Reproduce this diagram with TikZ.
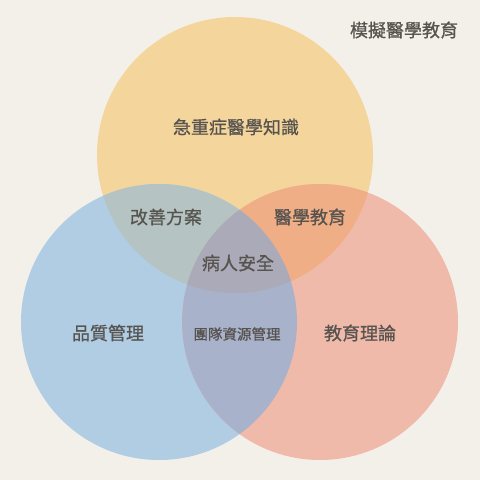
\documentclass[tikz,border=0pt]{standalone}
\usepackage{fontspec}
\setmainfont{Noto Sans CJK TC}
\newfontfamily\cjkm[FakeBold=0.8]{Noto Sans CJK TC}
\definecolor{bg}{HTML}{F3F0EA}
\definecolor{cy}{HTML}{F4D59B}
\definecolor{cb}{HTML}{B0CDE4}
\definecolor{cr}{HTML}{EFBAAA}
\definecolor{cyb}{HTML}{B5C4C2}
\definecolor{cyr}{HTML}{EFAE86}
\definecolor{cbr}{HTML}{A9B2CB}
\definecolor{cybr}{HTML}{ABAAB8}
\definecolor{txt}{HTML}{57534F}
\tikzset{
  lbl/.style={text=txt, font=\cjkm\fontsize{18pt}{20pt}\selectfont, inner sep=0pt},
  lblsm/.style={text=txt, font=\cjkm\fontsize{14.5pt}{16pt}\selectfont, inner sep=0pt}
}
\begin{document}
\begin{tikzpicture}[x=1pt,y=-1pt]
\fill[bg] (0,0) rectangle (480,480);
\useasboundingbox (0,0) rectangle (480,480);
\def\cY{(235,155) circle[radius=138pt]}
\def\cB{(159,322) circle[radius=138pt]}
\def\cR{(320,322) circle[radius=138pt]}
\fill[cy] \cY;
\fill[cb] \cB;
\fill[cr] \cR;
\begin{scope}
  \clip \cY;
  \fill[cyb] \cB;
  \fill[cyr] \cR;
\end{scope}
\begin{scope}
  \clip \cB;
  \fill[cbr] \cR;
\end{scope}
\begin{scope}
  \clip \cY;
  \clip \cB;
  \fill[cybr] \cR;
\end{scope}
\node[lbl] (title) at (404,30) {模擬醫學教育};
\node[lbl] (top) at (236,127) {急重症醫學知識};
\node[lbl] (tl) at (166,217) {改善方案};
\node[lbl] (tr) at (310,217) {醫學教育};
\node[lbl] (mid) at (238,263) {病人安全};
\node[lbl] (left) at (108,333) {品質管理};
\node[lblsm] (bot) at (237,334) {團隊資源管理};
\node[lbl] (right) at (360,333) {教育理論};
\end{tikzpicture}
\end{document}
